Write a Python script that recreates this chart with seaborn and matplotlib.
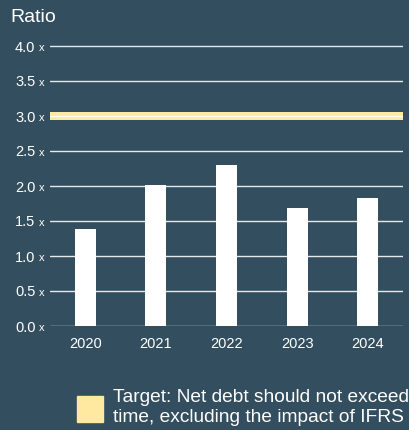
import matplotlib
matplotlib.use("Agg")
import matplotlib.pyplot as plt
import matplotlib.transforms as mtransforms
import seaborn as sns
import pandas as pd

years = ["2020", "2021", "2022", "2023", "2024"]
ratios = [1.38, 2.01, 2.30, 1.69, 1.83]
target = 3.0
yticks = [0.0, 0.5, 1.0, 1.5, 2.0, 2.5, 3.0, 3.5, 4.0]
ytick_labels = ["0.0", "0.5", "1.0", "1.5", "2.0", "2.5", "3.0", "3.5", "4.0"]
legend_lines = ["Target: Net debt should not exceed", "time, excluding the impact of IFRS"]

BG = "#334e5e"
YELLOW = "#ffe8a0"

sns.set_theme(style="white")
plt.rcParams["font.family"] = ["Liberation Sans", "DejaVu Sans"]

df = pd.DataFrame({"year": years, "ratio": ratios})

fig = plt.figure(figsize=(4.1, 4.3), dpi=100, facecolor=BG)
ax = fig.add_axes([50 / 410, (430 - 326) / 430, (403 - 50) / 410, (326 - 42.5) / 430])
ax.set_facecolor(BG)

sns.barplot(data=df, x="year", y="ratio", color="white", width=0.3,
            saturation=1, edgecolor="none", ax=ax, zorder=3)

ax.set_ylim(0, 4.05)
ax.set_xlim(-0.5, 4.5)
ax.set_yticks(yticks)
ax.set_yticklabels(ytick_labels)
ax.grid(axis="y", color="#e6eaed", linewidth=1.0, zorder=0)
ax.set_axisbelow(True)
ax.axhspan(target - 0.058, target + 0.058, color=YELLOW, zorder=1, lw=0)
ax.axhline(target, color="white", linewidth=1.0, zorder=2)

for s in ax.spines.values():
    s.set_visible(False)

ax.tick_params(axis="both", length=0, colors="white", labelsize=10.5)
ax.tick_params(axis="y", pad=10.5)
ax.tick_params(axis="x", pad=8)
for lbl in ax.get_xticklabels() + ax.get_yticklabels():
    lbl.set_color("white")

# small "x" suffix after each y tick label, baseline aligned with digits
xtrans = mtransforms.offset_copy(ax.get_yaxis_transform(), fig=fig, x=-5, y=-5.3, units="dots")
for v in yticks:
    ax.text(0, v, "x", transform=xtrans, ha="right",
            va="baseline", fontsize=8, color="white")

ax.set_xlabel("")
ax.set_ylabel("")

fig.text(10 / 410, 1 - 17 / 430, "Ratio", fontsize=14, color="white",
         ha="left", va="center")

# legend
fig.patches.append(plt.Rectangle((77 / 410, 1 - 422 / 430), 26 / 410, 26 / 430,
                                 transform=fig.transFigure, color=YELLOW,
                                 figure=fig))
fig.text(113 / 410, 1 - 398 / 430, legend_lines[0], fontsize=13.8, color="white",
         ha="left", va="center")
fig.text(113 / 410, 1 - 418 / 430, legend_lines[1], fontsize=13.8, color="white",
         ha="left", va="center")

fig.savefig("out.png", dpi=100, facecolor=BG)
